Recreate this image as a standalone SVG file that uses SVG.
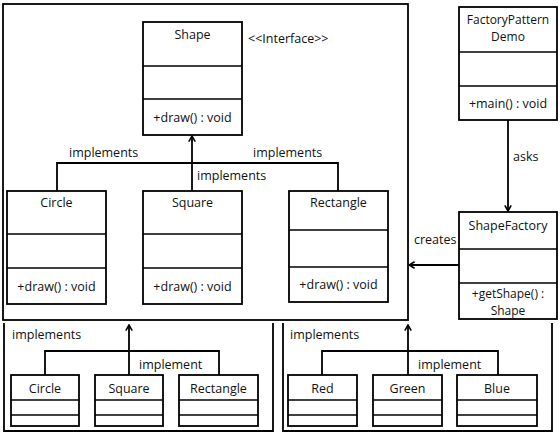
<svg xmlns="http://www.w3.org/2000/svg" width="560" height="437" viewBox="0 0 560 437">
  <style>
    .box { fill: #fff; stroke: #000; stroke-width: 1.8; }
    .frame { fill: none; stroke: #000; stroke-width: 1.8; }
    .div { stroke: #000; stroke-width: 1.6; }
    .link { fill: none; stroke: #000; stroke-width: 1.8; }
    text { font-family: "Open Sans", "Liberation Sans", sans-serif; font-size: 12.5px; fill: #111; }
    .c { text-anchor: middle; }
    .tight { font-size: 12px; }
  </style>
  <defs>
    <marker id="open" viewBox="0 0 10 10" refX="9" refY="5" markerWidth="8" markerHeight="8" orient="auto" markerUnits="userSpaceOnUse">
      <path d="M2,1 L9,5 L2,9" fill="none" stroke="#000" stroke-width="2"/>
    </marker>
  </defs>
  <rect width="560" height="437" fill="#fff"/>

  <!-- package frames -->
  <g id="frames">
    <rect class="frame" x="3" y="4" width="405" height="316"/>
    <path class="frame" d="M4,323 V431 H273 V323"/>
    <path class="frame" d="M283,323 V431 H552 V323"/>
  </g>

  <!-- connectors and their labels -->
  <g id="connectors">
    <path class="link" d="M57,191 V163 H338 V191"/>
    <path class="link" d="M192,191 V136" marker-end="url(#open)"/>
    <path class="link" d="M508,120 V211" marker-end="url(#open)"/>
    <path class="link" d="M459,265 H409" marker-end="url(#open)"/>
    <path class="link" d="M45,375 V351 H219 V375"/>
    <path class="link" d="M129,375 V325" marker-end="url(#open)"/>
    <path class="link" d="M322,375 V351 H498 V375"/>
    <path class="link" d="M408,375 V325" marker-end="url(#open)"/>
    <text x="69" y="157">implements</text>
    <text x="253" y="157">implements</text>
    <text x="197" y="180">implements</text>
    <text x="513" y="161">asks</text>
    <text x="414" y="244">creates</text>
    <text x="12" y="339">implements</text>
    <text x="139" y="369">implement</text>
    <text x="290" y="339">implements</text>
    <text x="418" y="369">implement</text>
  </g>

  <g id="shape">
    <rect class="box" x="143" y="22" width="99" height="113"/>
    <line class="div" x1="143" y1="66" x2="242" y2="66"/>
    <line class="div" x1="143" y1="99" x2="242" y2="99"/>
    <text class="c" x="192.5" y="39">Shape</text>
    <text class="c" x="192.5" y="122">+draw() : void</text>
    <text x="248" y="43">&lt;&lt;Interface&gt;&gt;</text>
  </g>

  <g id="circle">
    <rect class="box" x="7" y="191" width="99" height="113"/>
    <line class="div" x1="7" y1="234" x2="106" y2="234"/>
    <line class="div" x1="7" y1="268" x2="106" y2="268"/>
    <text class="c" x="56.5" y="207">Circle</text>
    <text class="c" x="56.5" y="291">+draw() : void</text>
  </g>

  <g id="square">
    <rect class="box" x="143" y="191" width="99" height="113"/>
    <line class="div" x1="143" y1="234" x2="242" y2="234"/>
    <line class="div" x1="143" y1="268" x2="242" y2="268"/>
    <text class="c" x="192.5" y="207">Square</text>
    <text class="c" x="192.5" y="291">+draw() : void</text>
  </g>

  <g id="rectangle">
    <rect class="box" x="289" y="191" width="99" height="111"/>
    <line class="div" x1="289" y1="230" x2="388" y2="230"/>
    <line class="div" x1="289" y1="267" x2="388" y2="267"/>
    <text class="c" x="338.5" y="207">Rectangle</text>
    <text class="c" x="338.5" y="289">+draw() : void</text>
  </g>

  <g id="factoryPatternDemo">
    <rect class="box" x="459" y="7" width="98" height="113"/>
    <line class="div" x1="459" y1="52" x2="557" y2="52"/>
    <line class="div" x1="459" y1="86" x2="557" y2="86"/>
    <text class="c tight" x="508" y="24">FactoryPattern</text>
    <text class="c tight" x="508" y="41">Demo</text>
    <text class="c" x="508" y="108">+main() : void</text>
  </g>

  <g id="shapeFactory">
    <rect class="box" x="459" y="212" width="98" height="107"/>
    <line class="div" x1="459" y1="249" x2="557" y2="249"/>
    <line class="div" x1="459" y1="283" x2="557" y2="283"/>
    <text class="c" x="508" y="230">ShapeFactory</text>
    <text class="c tight" x="508" y="298">+getShape() :</text>
    <text class="c tight" x="508" y="315">Shape</text>
  </g>

  <g id="circle2">
    <rect class="box" x="11" y="375" width="68" height="51"/>
    <line class="div" x1="11" y1="400" x2="79" y2="400"/>
    <line class="div" x1="11" y1="415" x2="79" y2="415"/>
    <text class="c" x="45" y="393">Circle</text>
  </g>
  <g id="square2">
    <rect class="box" x="95" y="375" width="68" height="51"/>
    <line class="div" x1="95" y1="400" x2="163" y2="400"/>
    <line class="div" x1="95" y1="415" x2="163" y2="415"/>
    <text class="c" x="129" y="393">Square</text>
  </g>
  <g id="rectangle2">
    <rect class="box" x="179" y="375" width="79" height="51"/>
    <line class="div" x1="179" y1="400" x2="258" y2="400"/>
    <line class="div" x1="179" y1="415" x2="258" y2="415"/>
    <text class="c" x="218.5" y="393">Rectangle</text>
  </g>

  <g id="red">
    <rect class="box" x="288" y="375" width="69" height="51"/>
    <line class="div" x1="288" y1="400" x2="357" y2="400"/>
    <line class="div" x1="288" y1="415" x2="357" y2="415"/>
    <text class="c" x="322.5" y="393">Red</text>
  </g>
  <g id="green">
    <rect class="box" x="373" y="375" width="69" height="51"/>
    <line class="div" x1="373" y1="400" x2="442" y2="400"/>
    <line class="div" x1="373" y1="415" x2="442" y2="415"/>
    <text class="c" x="407.5" y="393">Green</text>
  </g>
  <g id="blue">
    <rect class="box" x="457" y="375" width="80" height="51"/>
    <line class="div" x1="457" y1="400" x2="537" y2="400"/>
    <line class="div" x1="457" y1="415" x2="537" y2="415"/>
    <text class="c" x="497" y="393">Blue</text>
  </g>
</svg>
